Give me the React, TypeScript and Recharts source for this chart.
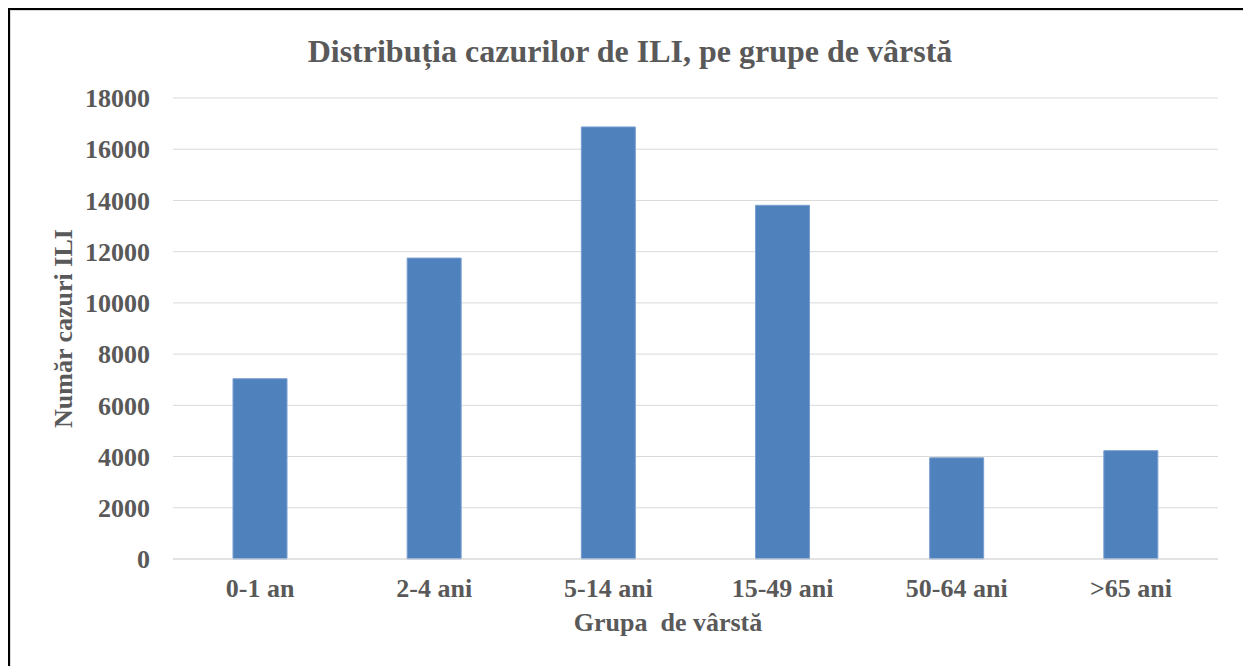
import React from "react";
import { BarChart, Bar, XAxis, YAxis, CartesianGrid, Label } from "recharts";

const categories = ["0-1 an", "2-4 ani", "5-14 ani", "15-49 ani", "50-64 ani", ">65 ani"];
const cases = [7040, 11750, 16870, 13810, 3950, 4230];
const yTicks = [0, 2000, 4000, 6000, 8000, 10000, 12000, 14000, 16000, 18000];

const title = "Distribuția cazurilor de ILI, pe grupe de vârstă";
const yTitle = "Număr cazuri ILI";
const xTitle = "Grupa  de vârstă";

const data = categories.map((c, i) => ({ name: c, value: cases[i] }));

const FONT = "'Liberation Serif', 'Times New Roman', serif";
const GRAY = "#595959";

export default function App() {
  return (
    <div style={{ width: 1227, height: 650 }}>
      <div style={{ position: "fixed", left: 8, top: 8, width: 1235, height: 658, overflow: "hidden" }}>
        <div style={{ width: 1240, height: 670, border: "2px solid #000", background: "#fff" }}>
          <div style={{ position: "relative", width: 1238, height: 668, borderLeft: "1px solid #d9d9d9", borderTop: "1px solid #d9d9d9" }}>
            <div
              style={{
                position: "absolute",
                left: 0,
                top: 22,
                width: 1238,
                textAlign: "center",
                fontFamily: FONT,
                fontWeight: "bold",
                fontSize: 32,
                color: GRAY,
                lineHeight: "36px",
              }}
            >
              {title}
            </div>
            <BarChart
              width={1226}
              height={650}
              data={data}
              margin={{ top: 87, right: 19, bottom: 20, left: 0 }}
              barSize={54}
            >
              <CartesianGrid vertical={false} stroke="#d9d9d9" strokeWidth={1} />
              <XAxis
                dataKey="name"
                height={82}
                tickLine={false}
                tickSize={0}
                tickMargin={20}
                axisLine={{ stroke: "#d9d9d9" }}
                tick={{ fontFamily: FONT, fontWeight: "bold", fontSize: 26, fill: GRAY }}
                interval={0}
              >
                <Label
                  content={(props: any) => {
                    const vb = props.viewBox;
                    return (
                      <text
                        x={657}
                        y={vb.y + 72}
                        textAnchor="middle"
                        fontFamily={FONT}
                        fontWeight="bold"
                        fontSize={26}
                        fill={GRAY}
                        style={{ whiteSpace: "pre" }}
                      >
                        {xTitle}
                      </text>
                    );
                  }}
                />
              </XAxis>
              <YAxis
                width={162}
                domain={[0, 18000]}
                ticks={yTicks}
                interval={0}
                tickLine={false}
                tickSize={0}
                tickMargin={23}
                axisLine={false}
                tick={{ fontFamily: FONT, fontWeight: "bold", fontSize: 26, fill: GRAY }}
              >
                <Label
                  content={(props: any) => {
                    const vb = props.viewBox;
                    const cy = vb.y + vb.height / 2;
                    return (
                      <text
                        x={61}
                        y={cy}
                        transform={`rotate(-90, 61, ${cy})`}
                        textAnchor="middle"
                        fontFamily={FONT}
                        fontWeight="bold"
                        fontSize={26}
                        fill={GRAY}
                      >
                        {yTitle}
                      </text>
                    );
                  }}
                />
              </YAxis>
              <Bar dataKey="value" fill="#4f81bd" stroke="#7a9fd0" strokeWidth={1} isAnimationActive={false} />
            </BarChart>
          </div>
        </div>
      </div>
    </div>
  );
}
